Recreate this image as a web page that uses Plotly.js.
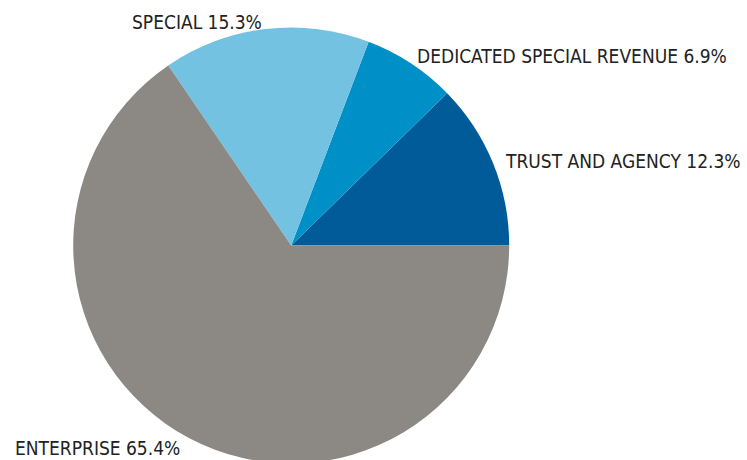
<!DOCTYPE html>
<html>
<head>
<meta charset="utf-8">
<script src="https://cdn.plot.ly/plotly-3.0.1.min.js"></script>
<style>
html,body{margin:0;padding:0;overflow:hidden;background:#fff;width:747px;height:460px;}
#chart{width:747px;height:470px;}
</style>
</head>
<body>
<div id="chart"></div>
<script>
var labels = ["TRUST AND AGENCY", "DEDICATED SPECIAL REVENUE", "SPECIAL", "ENTERPRISE"];
var values = [12.3, 6.9, 15.3, 65.4];
var colors = ["#005B98", "#0090C8", "#74C2E1", "#8C8985"];

var W = 747, H = 470;
// label anchor positions in pixels (left, vertical middle)
var labelPos = [[503, 161], [415, 56], [130, 22], [13, 448]];

var annotations = labels.map(function (l, i) {
  return {
    text: l + " " + values[i].toFixed(1) + "%",
    xref: "paper", yref: "paper",
    x: labelPos[i][0] / W, y: 1 - labelPos[i][1] / H,
    xanchor: "left", yanchor: "middle",
    showarrow: false,
    font: {family: "DejaVu Sans Condensed, sans-serif", size: 19, color: "#222222"}
  };
});

var total = values.reduce(function (a, b) { return a + b; }, 0);
// first slice should begin at 3 o'clock and run counterclockwise
var rot = 90 - values[0] / total * 360;

var trace = {
  type: "pie",
  labels: labels,
  values: values,
  sort: false,
  direction: "counterclockwise",
  rotation: rot,
  marker: {colors: colors, line: {width: 0}},
  textinfo: "none",
  hoverinfo: "label+percent",
  domain: {x: [73.2 / W, 509.2 / W], y: [1 - 463.5 / H, 1 - 27.5 / H]}
};

Plotly.newPlot("chart", [trace], {
  width: W, height: H,
  margin: {l: 0, r: 0, t: 0, b: 0},
  showlegend: false,
  paper_bgcolor: "#ffffff",
  annotations: annotations
}, {staticPlot: true});
</script>
</body>
</html>
